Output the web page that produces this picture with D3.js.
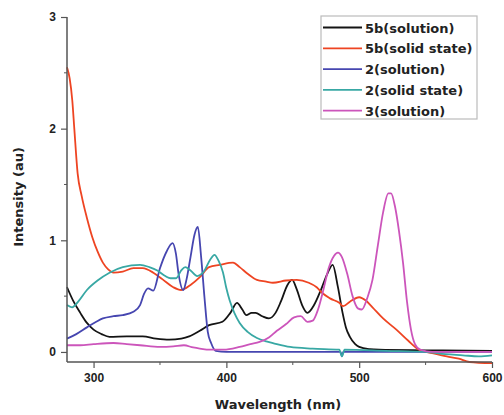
<!DOCTYPE html>
<html>
<head>
<meta charset="utf-8">
<script src="https://cdn.jsdelivr.net/npm/d3@7"></script>
<style>
  body { margin: 0; background: #fff; }
  svg text { font-family: Arial, "Liberation Sans", sans-serif; font-weight: bold; }
  svg text.wide { font-family: "DejaVu Sans", sans-serif; }
</style>
</head>
<body>
<div id="chart"></div>
<script>
// emission spectra, values
var seriesNames = ["5b(solution)", "5b(solid state)", "2(solution)", "2(solid state)", "3(solution)"];
var seriesColors = ["#141414", "#ee4422", "#4646b0", "#38a8a4", "#cc55bb"];

var xTicks = [300, 400, 500, 600];
var yTicks = [0, 1, 2, 3];

// [wavelength, intensity]
var sol5b = [[280,0.58],[285,0.45],[290,0.35],[295,0.26],[300,0.20],[306,0.16],[312,0.135],[325,0.14],[337,0.14],[347,0.12],[357,0.11],[366,0.12],[372,0.14],
  [380,0.19],[387,0.24],[397,0.27],[403,0.35],[408,0.44],[412,0.38],[415,0.33],[419,0.35],[422,0.35],[427,0.32],[432,0.30],[437,0.35],[441,0.45],[446,0.6],[449.5,0.645],
  [453,0.56],[457,0.42],[461,0.35],[466,0.42],[471,0.55],[476,0.70],[480,0.78],[484,0.58],[487.5,0.35],[490,0.22],[493,0.135],[497,0.07],[500,0.045],[508,0.025],[515,0.02],[550,0.015],[600,0.01]];

var solid5b = [[280,2.55],[282,2.45],[284,2.25],[285.5,2.0],[288,1.6],[291,1.4],[295,1.2],[299,1.03],[303,0.9],[307,0.8],[311,0.74],[315,0.71],[322,0.72],[330,0.75],[337,0.75],
  [345,0.71],[352,0.65],[360,0.58],[366,0.555],[373,0.6],[380,0.67],[387,0.76],[395,0.78],[405,0.80],[410,0.76],[416,0.70],[423,0.645],[430,0.63],[435,0.62],[445,0.64],
  [453,0.645],[462,0.62],[468,0.58],[472,0.53],[478,0.48],[485,0.44],[488,0.41],[493,0.45],[500,0.49],[505,0.46],[510,0.40],[518,0.30],[528,0.20],[537,0.10],[545,0.02],
  [555,-0.01],[566,-0.04],[575,-0.06],[583,-0.09],[600,-0.10]];

var sol2 = [[280,0.12],[287,0.16],[295,0.22],[302,0.27],[307,0.30],[315,0.32],[322,0.33],[330,0.36],[335,0.42],[338,0.52],[341,0.57],[345,0.55],[350,0.75],[355,0.9],
  [359.5,0.975],[362,0.88],[364,0.7],[367.5,0.555],[370,0.65],[373,0.85],[376,1.05],[378.5,1.12],[381,0.85],[383.5,0.49],[386,0.18],[388.5,0.08],[392,0.01],[400,0.0],
  [450,0.0],[486,0.0],[487,-0.04],[488,0.0],[600,0.0]];

var solid2 = [[280,0.42],[283.8,0.40],[289,0.46],[295,0.555],[303,0.64],[312,0.71],[322,0.76],[335,0.78],[342,0.76],[348,0.73],[354,0.68],[358,0.66],[362,0.66],
  [366,0.73],[369,0.76],[373,0.73],[378,0.68],[383,0.72],[388,0.83],[391,0.87],[394,0.82],[397.5,0.71],[400,0.57],[402.5,0.46],[406,0.35],[410,0.26],[416,0.18],
  [423,0.125],[430,0.095],[435,0.08],[448,0.045],[465,0.03],[485,0.02],[487,-0.04],[489,0.02],[520,0.01],[550,0.0],[565,-0.02],[578,-0.03],[590,-0.04],[600,-0.03]];

var sol3 = [[280,0.06],[290,0.06],[300,0.07],[315,0.08],[325,0.07],[335,0.06],[350,0.045],[360,0.05],[368,0.06],[375,0.04],[380,0.03],[388,0.02],[398,0.02],[410,0.045],
  [418,0.07],[425,0.09],[432,0.13],[438,0.19],[445,0.25],[451,0.31],[456,0.32],[461,0.27],[465,0.28],[469,0.38],[473,0.555],[477,0.75],[481,0.86],[484,0.89],[487,0.85],
  [491,0.7],[495,0.5],[499,0.39],[502,0.38],[506,0.48],[510,0.645],[514,0.95],[518,1.25],[522,1.42],[524,1.42],[527,1.3],[530,1.08],[533,0.8],[536,0.45],[539,0.2],
  [542,0.07],[546,0.02],[555,0.0],[600,0.0]];

var seriesData = [sol5b, solid5b, sol2, solid2, sol3];

var width = 504, height = 415;

var svg = d3.select("#chart").append("svg")
    .attr("width", width)
    .attr("height", height);

var x = d3.scaleLinear().domain([280, 600]).range([67, 492]);
// y=3 sits at the very top of the axis, axis bottom slightly below 0
var y = d3.scaleLinear().domain([-0.09, 3]).range([362, 17]);

var line = d3.line()
    .x(function(d){ return x(d[0]); })
    .y(function(d){ return y(d[1]); })
    .curve(d3.curveMonotoneX);

// curves
svg.append("g").selectAll("path").data(seriesData).enter().append("path")
    .attr("d", line)
    .attr("fill", "none")
    .attr("stroke", function(d, i){ return seriesColors[i]; })
    .attr("stroke-width", 1.8)
    .attr("stroke-linejoin", "round");

// axes
var axisColor = "#555";
var xAxis = d3.axisBottom(x).tickValues(xTicks).tickSize(6).tickPadding(5).tickFormat(d3.format("d"));
var yAxis = d3.axisLeft(y).tickValues(yTicks).tickSize(6).tickPadding(5).tickFormat(d3.format("d"));

var gx = svg.append("g").attr("transform", "translate(0," + y(-0.09) + ")").call(xAxis);
var gy = svg.append("g").attr("transform", "translate(" + x(280) + ",0)").call(yAxis);

// minor ticks
gx.selectAll(".minor").data([350, 450, 550]).enter().append("line")
    .attr("x1", function(d){ return x(d); }).attr("x2", function(d){ return x(d); })
    .attr("y1", 0).attr("y2", 3).attr("stroke", axisColor);
gy.selectAll(".minor").data([0.5, 1.5, 2.5]).enter().append("line")
    .attr("y1", function(d){ return y(d); }).attr("y2", function(d){ return y(d); })
    .attr("x1", 0).attr("x2", -3).attr("stroke", axisColor);

[gx, gy].forEach(function(g){
  g.select(".domain").attr("stroke", axisColor).attr("stroke-width", 1.5);
  g.selectAll(".tick line").attr("stroke", axisColor).attr("stroke-width", 1.2);
  g.selectAll(".tick text").attr("fill", "#222").style("font-size", "12px").style("font-weight", "bold");
});
gx.select(".domain").attr("d", "M" + x(280) + ",0H" + x(600));
gy.select(".domain").attr("d", "M0," + y(-0.09) + "V" + y(3));

// axis titles
svg.append("text").attr("class", "wide")
    .attr("x", 278).attr("y", 409)
    .attr("text-anchor", "middle")
    .style("font-size", "13px").attr("fill", "#222")
    .text("Wavelength (nm)");
svg.append("text").attr("class", "wide")
    .attr("transform", "translate(23,197) rotate(-90)")
    .attr("text-anchor", "middle")
    .style("font-size", "13px").attr("fill", "#222")
    .text("Intensity (au)");

// legend
var legend = svg.append("g");
legend.append("rect")
    .attr("x", 321).attr("y", 16).attr("width", 156).attr("height", 103)
    .attr("fill", "#fff").attr("stroke", "#bbb").attr("stroke-width", 1.2);
var items = legend.selectAll(".item").data(seriesNames).enter().append("g")
    .attr("transform", function(d, i){ return "translate(0," + (27.5 + i * 20.8) + ")"; });
items.append("line")
    .attr("x1", 323).attr("x2", 362).attr("y1", 0).attr("y2", 0)
    .attr("stroke", function(d, i){ return seriesColors[i]; })
    .attr("stroke-width", 1.8);
items.append("text").attr("class", "wide")
    .attr("x", 365).attr("y", 5)
    .style("font-size", "13px").attr("fill", "#222")
    .text(function(d){ return d; });
</script>
</body>
</html>
